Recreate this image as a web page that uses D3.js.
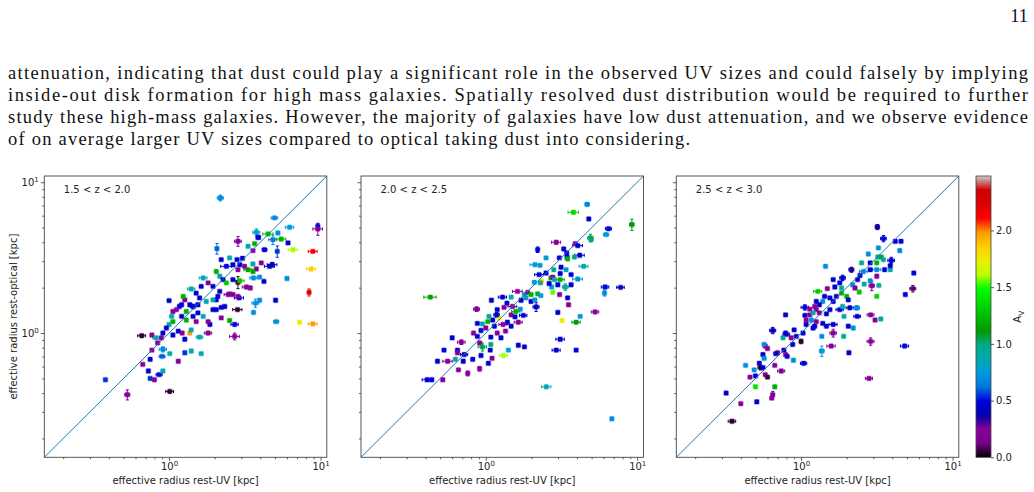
<!DOCTYPE html>
<html><head><meta charset="utf-8">
<script src="https://cdn.jsdelivr.net/npm/d3@7"></script>
<style>html,body{margin:0;padding:0;background:#fff;}svg{display:block;}</style>
</head><body>
<script>
// ---------- data ----------
const pageNumber = "11";
const paragraphLines = [
  "attenuation, indicating that dust could play a significant role in the observed UV sizes and could falsely by implying",
  "inside-out disk formation for high mass galaxies.  Spatially resolved dust distribution would be required to further",
  "study these high-mass galaxies. However, the majority of galaxies have low dust attenuation, and we observe evidence",
  "of on average larger UV sizes compared to optical taking dust into considering."
];
const panelLabels = ["1.5 < z < 2.0", "2.0 < z < 2.5", "2.5 < z < 3.0"];
const xTitle = "effective radius rest-UV [kpc]";
const yTitle = "effective radius rest-optical [kpc]";
const cbarTicks = [0.0, 0.5, 1.0, 1.5, 2.0];
const axisDomain = [0.15, 11];
const avDomain = [0, 2.48];

// each point: [r_UV, r_opt, A_V, err_UV, err_opt]
const panel1 = [
[2.18,7.87,0.7,0.1,0.35],[4.97,5.8,0.7,0.25,0],[6.25,5.03,0.75,0.4,0],[9.6,5.1,0.5,0,0.2],[9.6,4.9,0.25,0.7,0.45],
[3.77,4.66,0.8,0.2,0.25],[4.5,4.54,1.25,0.35,0],[3.86,4.31,0.45,0,0],[5.23,4.61,0.7,0,0],[4.85,4.16,0.65,0.3,0.3],
[5.5,4.2,1.2,0.4,0],[6.1,3.96,0.45,0,0],[5.18,3.48,0.55,0,0.3],[6.57,3.57,1.6,0.45,0],[8.9,3.48,2.15,0.6,0],
[8.68,2.66,1.85,0.6,0],[8.4,1.86,2.2,0,0.1],[7.27,1.18,1.72,0,0],[8.9,1.15,1.97,0.6,0],[6.0,2.3,0.7,0,0],
[5.05,1.65,0.45,0,0],[5.1,1.19,0.72,0.2,0],[4.8,2.84,0.45,0.35,0.1],[4.23,2.2,0.45,0,0],[3.96,2.35,0.7,0,0],
[3.61,2.32,0.7,0.2,0],[3.72,1.58,0.72,0.2,0.1],[3.61,1.37,0.7,0,0],[3.96,1.65,0.7,0,0],[2.85,4.06,0.25,0.15,0.3],
[2.07,3.63,0.6,0,0.3],[3.32,3.76,0.85,0,0],[3.67,3.92,1.2,0,0],[4.27,3.57,0.45,0.15,0],[3.9,4.31,0.45,0,0],
[3.58,3.52,0.25,0,0],[3.05,3.13,0.45,0,0],[2.81,3.07,0.5,0,0],[2.21,3.07,0.45,0,0],[2.51,3.15,0.85,0,0],
[2.39,2.77,0.5,0.2,0],[2.64,2.84,0.45,0,0],[4.61,2.77,0.4,0.35,0],[4.06,2.92,0.25,0,0],[3.77,2.66,0.25,0,0],
[3.58,2.87,0.85,0,0],[3.32,2.63,1.15,0.2,0],[3.15,2.77,0.25,0,0],[3.58,2.56,1.15,0,0],[2.93,2.84,0.45,0,0],
[2.85,2.63,0.25,0,0],[2.64,2.26,0.45,0,0],[2.85,2.17,0.05,0,0.2],[2.93,2.22,1.3,0.2,0],[3.24,2.02,0.25,0.2,0],
[3.44,1.99,0.25,0,0],[2.9,1.71,0.5,0.2,0],[2.83,1.43,0.05,0.2,0],[2.64,1.8,0.25,0,0],[2.46,1.8,0.25,0.15,0],
[2.16,1.89,0.45,0,0],[2.05,1.66,0.45,0,0],[2.21,1.48,0.45,0,0],[1.95,1.43,0.45,0,0],[2.21,1.26,0.25,0,0],
[2.51,1.21,1.2,0,0],[2.71,1.14,0.5,0.15,0],[2.71,0.95,0.25,0.2,0.05],[1.86,1.14,0.45,0,0],[1.81,1.0,0.25,0.1,0],
[1.59,0.94,0.85,0.08,0],[1.4,0.76,0.85,0,0],[1.27,0.74,0.55,0,0],[1.63,0.73,0.85,0,0],[1.27,0.91,0.5,0,0],
[1.37,1.0,1.97,0,0],[1.4,1.05,0.85,0,0],[1.15,0.65,0.25,0,0],[1.01,0.73,0.85,0,0],[0.91,0.78,0.7,0.05,0.03],
[1.01,0.41,0.05,0.06,0],[0.66,0.96,0.05,0.04,0],[0.77,0.97,0.25,0,0],[0.77,0.77,0.25,0,0],[0.67,0.62,0.25,0,0],
[0.75,0.67,0.45,0,0],[0.73,0.56,0.5,0,0],[0.75,0.50,0.55,0,0],[0.8,0.49,0.25,0,0],[0.86,0.53,0.5,0.04,0],
[0.91,0.56,0.85,0,0],[0.53,0.39,0.25,0.02,0.03],[0.38,0.49,0.55,0,0],[0.9,0.70,0.6,0.04,0],[0.84,0.86,0.25,0,0],
[0.89,0.93,0.25,0,0],[0.91,1.0,0.45,0,0],[1.0,1.14,0.85,0,0],[1.06,1.19,1.2,0,0],[1.04,1.29,0.85,0,0],
[0.96,1.08,0.45,0,0],[1.06,0.97,0.45,0,0],[1.15,1.03,0.45,0,0],[1.22,1.0,0.25,0,0],[0.82,0.93,0.85,0.04,0],
[1.06,1.39,0.25,0,0],[1.0,1.64,0.45,0,0],[1.17,1.5,0.45,0,0],[1.12,1.43,0.25,0,0],[1.21,1.54,0.5,0,0],
[1.27,1.66,0.25,0,0],[1.3,1.39,1.2,0,0],[1.37,1.54,0.45,0,0],[1.44,1.5,0.5,0.06,0.05],[1.55,1.54,0.45,0,0],
[1.24,1.75,1.2,0,0],[1.4,1.96,0.85,0.08,0],[1.63,2.04,0.45,0,0],[1.68,2.32,0.85,0.1,0],[1.81,2.15,0.25,0,0],
[1.95,2.04,0.45,0,0],[2.16,2.38,0.85,0,0],[2.27,2.26,0.45,0,0],[2.39,2.15,1.3,0,0],[2.05,2.56,1.2,0,0],
[1.51,1.84,0.45,0,0],[1.59,1.71,0.45,0,0],[1.76,1.62,0.85,0,0],[1.68,1.29,0.85,0,0],[1.81,1.19,0.25,0,0],
[1.51,1.19,0.25,0,0],[1.44,1.29,0.45,0,0],[1.3,1.22,1.2,0,0],[2.05,1.43,0.45,0,0],[2.51,1.82,0.25,0,0],
[2.85,1.75,0.25,0,0],[1.95,1.66,0.85,0,0],[2.1,1.75,0.45,0,0],[2.33,1.5,0.45,0,0],[1.55,1.36,0.45,0,0],
[1.21,1.29,0.45,0,0]
];
const panel2 = [
[4.67,7.14,0.7,0.15,0.2],[3.79,6.32,1.35,0.3,0],[4.79,5.71,0.45,0,0],[9.22,5.24,1.1,0.3,0.45],[6.46,4.92,0.5,0.3,0],
[6.23,4.5,0.75,0.25,0],[4.91,4.27,1.05,0.2,0.25],[4.96,4.16,1.0,0,0],[2.92,4.0,0.25,0.2,0.1],[3.9,3.92,0.25,0,0],
[2.2,3.57,0.5,0,0.15],[3.27,3.61,0.45,0,0],[4.05,3.8,0.45,0.3,0],[3.42,3.4,0.45,0,0],[3.44,3.19,0.45,0,0],
[3.85,3.19,1.0,0,0],[4.17,3.28,0.45,0.3,0],[2.5,3.15,0.75,0,0],[3.06,3.15,0.5,0,0],[3.47,3.1,1.2,0,0],
[2.11,2.84,0.75,0.15,0],[2.28,2.81,0.75,0,0],[3.14,2.73,0.45,0,0],[4.43,2.77,0.85,0.3,0],[2.5,2.5,0.45,0,0],
[2.81,2.63,0.95,0,0],[3.1,2.48,0.45,0,0],[3.39,2.63,0.75,0,0],[3.66,2.44,0.45,0,0],[4.05,2.28,0.7,0.3,0],
[2.25,2.44,0.45,0.15,0],[2.09,2.17,0.75,0,0],[2.34,2.2,1.85,0,0],[2.69,2.32,1.2,0,0],[2.77,2.35,0.25,0,0],
[2.84,2.26,0.85,0,0],[3.1,2.26,1.2,0.2,0],[2.99,2.09,0.45,0,0],[3.35,2.02,0.95,0.15,0.1],[2.72,2.02,0.75,0,0],
[2.77,1.86,1.55,0,0],[3.07,1.8,0.25,0,0],[3.47,1.71,0.45,0,0],[3.52,1.54,0.25,0,0],[2.99,1.37,0.45,0,0],
[3.19,1.21,1.72,0,0],[3.95,1.18,1.1,0.25,0],[4.2,1.29,0.75,0,0],[5.27,1.38,0.25,0.3,0],[6.14,2.02,0.5,0.35,0],
[7.76,2.01,0.45,0.45,0],[6.08,1.84,0.7,0,0.08],[3.1,0.91,0.45,0.2,0],[2.92,0.77,0.45,0.18,0],[3.95,0.77,0.5,0,0],
[2.51,0.44,0.85,0.18,0],[6.8,0.27,0.7,0,0],[0.43,1.73,1.15,0.04,0],[2.15,1.49,0.45,0.1,0.1],[1.99,1.62,0.45,0,0],
[2.11,1.66,0.75,0,0],[1.84,1.71,0.75,0,0],[1.8,1.8,0.9,0,0],[1.62,1.89,0.25,0.12,0],[1.89,1.86,0.25,0,0],
[1.99,1.8,1.2,0,0],[2.2,1.82,1.2,0,0],[2.31,1.77,0.75,0,0],[1.71,1.65,0.45,0,0],[1.29,1.73,0.45,0.08,0],
[1.47,1.73,0.85,0,0],[1.38,1.58,0.45,0,0],[1.09,1.65,0.45,0,0],[1.32,1.48,0.25,0,0],[1.5,1.5,0.25,0.1,0],
[1.69,1.44,0.75,0,0],[1.58,1.39,1.2,0.1,0],[1.77,1.31,0.45,0.1,0],[1.47,1.32,0.25,0,0],[1.56,1.28,0.45,0,0],
[1.64,1.18,0.25,0.1,0],[1.39,1.18,0.45,0,0],[1.3,1.14,0.25,0.08,0],[1.22,1.26,1.75,0,0],[1.18,1.32,0.45,0.05,0.05],
[1.11,1.22,0.45,0,0],[1.05,1.29,0.95,0,0],[1.14,1.11,0.45,0,0],[1.19,1.0,0.25,0,0],[1.08,0.94,0.45,0,0],
[1.26,0.93,0.45,0,0],[1.35,1.03,0.25,0,0],[0.95,1.15,0.85,0,0],[1.0,1.08,0.25,0,0],[0.93,1.04,0.45,0,0],
[0.87,1.44,0.25,0.04,0.05],[0.83,1.0,0.25,0,0],[0.88,0.95,0.45,0,0],[0.91,0.86,0.25,0,0],[0.95,0.81,1.05,0.06,0.05],
[1.08,0.84,1.0,0,0],[1.07,0.77,0.45,0,0],[0.93,0.71,0.45,0,0],[1.04,0.63,0.45,0,0],[1.1,0.68,0.25,0,0],
[1.31,0.71,1.6,0.08,0],[1.41,0.77,0.75,0,0],[1.64,0.83,0.45,0,0],[1.8,0.81,0.45,0,0],[0.69,0.87,0.25,0.04,0.03],
[0.65,0.77,0.45,0,0],[0.65,0.74,0.25,0,0],[0.6,0.93,0.45,0,0],[0.53,0.77,0.5,0,0],[0.56,0.65,0.25,0.04,0],
[0.63,0.67,0.85,0,0],[0.71,0.65,0.45,0,0],[0.72,0.72,0.45,0.04,0],[0.82,0.67,0.45,0,0],[0.91,0.58,0.25,0,0.02],
[0.76,0.54,0.25,0,0.02],[0.66,0.57,0.25,0,0],[0.48,0.65,0.45,0,0],[0.41,0.49,0.45,0.03,0],[0.44,0.49,0.5,0,0],
[0.52,0.49,0.25,0,0],[0.88,1.16,0.45,0,0],[1.03,1.19,1.2,0,0],[1.47,1.11,0.45,0,0],[1.19,1.43,0.45,0,0],
[2.29,2.15,0.95,0,0],[2.62,2.13,0.45,0,0],[3.66,2.09,0.45,0,0]
];
const panel3 = [
[3.19,5.05,0.35,0.1,0.2],[3.5,4.23,0.5,0.15,0.2],[4.19,4.06,0.45,0,0],[4.57,4.06,0.5,0,0],[4.48,3.52,0.7,0,0.1],
[3.94,3.03,0.45,0.2,0.15],[3.24,3.67,0.7,0,0],[2.78,3.34,0.7,0,0],[3.21,3.19,0.95,0,0],[3.38,3.19,1.05,0,0],
[3.16,2.92,1.2,0,0],[3.88,2.63,0.85,0,0],[3.56,2.63,0.5,0,0],[3.16,2.63,0.7,0.2,0],[2.86,2.63,0.45,0,0],
[2.58,2.56,0.7,0.15,0],[2.15,2.63,0.35,0.08,0.1],[2.45,2.41,0.5,0,0],[3.16,2.38,0.25,0,0],[2.86,2.22,0.7,0,0],
[2.93,2.06,0.25,0.12,0.15],[3.26,2.07,0.9,0,0],[2.36,2.26,0.45,0,0],[1.88,2.32,0.45,0.08,0.1],[2.19,2.09,0.7,0,0],
[2.27,1.99,0.25,0,0],[2.42,1.87,1.3,0,0],[3.16,1.75,1.35,0,0],[1.45,2.77,0.7,0,0],[5.55,2.5,0.5,0,0],
[5.47,1.97,0.1,0.25,0.1],[4.88,1.8,0.5,0,0],[4.83,0.82,0.5,0.3,0],[2.81,0.50,0.25,0.15,0],[2.88,0.88,0.25,0.15,0.05],
[2.07,0.74,0.45,0,0],[2.21,1.08,0.7,0,0],[2.35,1.29,0.45,0.12,0],[2.88,1.32,0.25,0.15,0],[3.36,1.24,0.9,0,0],
[3.08,1.22,0.25,0,0],[1.92,1.29,0.85,0,0],[1.91,0.95,0.95,0,0],[1.63,1.0,0.25,0.08,0.06],[1.58,0.82,0.25,0.1,0],
[1.37,0.76,0.75,0.05,0.06],[1.37,0.95,0.7,0,0],[1.63,1.14,0.45,0.1,0],[1.47,1.11,0.45,0,0],[1.8,1.43,0.45,0.1,0],
[2.1,1.47,0.45,0.12,0],[2.33,1.47,0.7,0.1,0.05],[1.88,1.5,0.85,0,0],[1.63,1.62,0.45,0,0],[1.71,1.75,0.45,0,0],
[1.55,1.71,0.5,0,0],[1.39,1.62,0.7,0,0],[1.43,1.75,0.45,0,0],[1.29,1.89,1.3,0.08,0],[1.49,1.97,0.25,0,0],
[1.67,2.02,0.45,0,0],[1.85,1.99,0.9,0,0],[1.85,1.84,1.2,0,0],[2.0,1.75,1.2,0,0],[2.05,1.66,0.45,0,0],
[1.32,1.54,0.45,0,0],[1.26,1.43,0.25,0,0],[1.32,1.36,0.25,0,0],[1.47,1.34,0.45,0,0],[1.55,1.43,0.45,0,0],
[1.06,1.48,0.45,0.06,0.06],[1.14,1.32,0.25,0,0],[1.2,1.36,0.9,0,0],[1.17,1.22,0.7,0,0],[1.26,1.19,0.25,0,0],
[1.39,1.16,0.45,0,0],[1.23,1.11,0.45,0,0],[1.08,1.14,0.45,0,0],[1.03,1.0,0.45,0,0],[1.0,0.88,0.05,0,0.03],
[0.93,0.95,0.45,0,0],[0.88,0.84,0.45,0,0],[0.8,0.98,0.45,0.04,0],[0.9,1.05,0.45,0,0],[0.86,0.93,0.25,0,0],
[0.76,0.93,0.95,0,0],[0.79,1.0,0.45,0,0],[0.65,1.04,0.4,0.03,0.05],[0.79,1.32,0.45,0,0],[1.06,1.31,0.45,0,0],
[1.14,1.44,0.25,0,0],[1.08,1.22,0.25,0,0],[0.77,0.77,0.45,0,0],[0.7,0.74,0.25,0,0],[0.68,0.73,0.45,0,0],
[0.79,0.72,0.25,0,0],[0.81,0.70,0.45,0,0],[0.89,0.66,0.7,0,0],[1.04,0.63,0.45,0.05,0],[0.74,0.56,0.25,0.04,0],
[0.67,0.61,0.25,0,0],[0.58,0.82,0.25,0,0],[0.57,0.84,0.7,0,0],[0.6,0.79,0.25,0,0],[0.56,0.72,0.45,0,0],
[0.57,0.68,0.7,0,0],[0.53,0.63,0.45,0,0],[0.54,0.59,0.05,0.02,0.02],[0.56,0.59,0.45,0,0],[0.5,0.52,0.45,0,0],
[0.49,0.57,0.7,0,0],[0.43,0.61,0.7,0,0],[0.46,0.51,0.25,0,0],[0.58,0.53,0.25,0,0],[0.6,0.51,0.05,0,0],
[0.5,0.44,1.4,0,0],[0.67,0.44,1.2,0,0],[0.65,0.39,0.25,0,0.02],[0.64,0.37,0.25,0,0],[0.51,0.35,0.45,0,0],
[0.4,0.34,0.25,0,0],[0.32,0.40,0.45,0,0],[0.35,0.26,0.05,0.02,0],[1.23,1.5,0.25,0,0],[1.26,1.62,0.45,0,0],
[1.63,2.26,0.45,0,0],[1.8,2.15,0.45,0,0],[2.51,2.92,0.95,0,0],[2.86,2.92,0.45,0,0],[3.5,3.07,0.95,0,0],
[3.88,2.8,0.45,0,0],[1.2,1.08,0.45,0,0],[2.61,2.11,0.9,0,0],[2.05,1.11,0.45,0,0]
];
const panels = [panel1, panel2, panel3];

// nipy_spectral colormap stops
const nsR = [0,.4667,.5333,0,0,0,0,0,0,0,0,0,0,.7333,.9333,1,1,1,.8667,.8,.8];
const nsG = [0,0,0,0,0,.4667,.6,.6667,.6667,.6,.7333,.8667,1,1,.9333,.8,.6,0,0,0,.8];
const nsB = [0,.5333,.6,.6667,.8667,.8667,.8667,.6667,.5333,0,0,0,0,0,0,0,0,0,0,0,.8];

// ---------- drawing ----------
const W = 1034, H = 492;
const svg = d3.select("body").append("svg").attr("width", W).attr("height", H);
const FONT = "DejaVu Sans, sans-serif";
const SERIF = "Liberation Serif, Times New Roman, serif";

const stopColors = nsR.map((r,i) => d3.rgb(r*255, nsG[i]*255, nsB[i]*255));
const cmap = d3.scaleLinear().domain(stopColors.map((_,i)=>i/20)).range(stopColors).interpolate(d3.interpolateRgb).clamp(true);
const avNorm = d3.scaleLinear().domain(avDomain).range([0,1]).clamp(true);
const colorOf = a => cmap(avNorm(a));

// page text
svg.append("text").attr("x", 1028).attr("y", 22).attr("text-anchor","end")
  .attr("font-family",SERIF).attr("font-size",18.5).attr("fill","#111").text(pageNumber);
const lineEnds = [1028, 1028, 1028, 690];
paragraphLines.forEach((t,i) => {
  svg.append("text").attr("x", 8).attr("y", 78.5 + i*22.2)
    .attr("font-family",SERIF).attr("font-size",18.5)
    .attr("textLength", lineEnds[i]-8).attr("lengthAdjust","spacing")
    .attr("fill","#111").text(t);
});

const yTop = 176, yBot = 457.3, pw = 282.5;
const lefts = [44.3, 361, 676.3];
const majors = [1, 10];
const minors = [0.2,0.3,0.4,0.5,0.6,0.7,0.8,0.9,2,3,4,5,6,7,8,9];

function supLabel(sel, d) {
  sel.text(null);
  sel.append("tspan").text("10");
  sel.append("tspan").attr("dy",-4).attr("font-size",7).text(Math.round(Math.log10(d)));
}

panels.forEach((data, pi) => {
  const left = lefts[pi];
  const x = d3.scaleLog().domain(axisDomain).range([left, left+pw]);
  const y = d3.scaleLog().domain(axisDomain).range([yBot, yTop]);
  const g = svg.append("g");

  const cid = "clip"+pi;
  svg.append("clipPath").attr("id",cid).append("rect")
    .attr("x",left).attr("y",yTop).attr("width",pw).attr("height",yBot-yTop);
  const plot = g.append("g").attr("clip-path",`url(#${cid})`);

  // error bars
  const eb = plot.append("g").attr("stroke-width",1);
  data.forEach(d => {
    const c = colorOf(d[2]);
    const px = x(d[0]), py = y(d[1]);
    if (d[3] > 0) {
      const x1 = x(d[0]-d[3]), x2 = x(d[0]+d[3]);
      eb.append("line").attr("x1",x1).attr("x2",x2).attr("y1",py).attr("y2",py).attr("stroke",c);
      [x1,x2].forEach(xx => eb.append("line").attr("x1",xx).attr("x2",xx).attr("y1",py-1.6).attr("y2",py+1.6).attr("stroke",c));
    }
    if (d[4] > 0) {
      const y1 = y(d[1]-d[4]), y2 = y(d[1]+d[4]);
      eb.append("line").attr("x1",px).attr("x2",px).attr("y1",y1).attr("y2",y2).attr("stroke",c);
      [y1,y2].forEach(yy => eb.append("line").attr("x1",px-1.6).attr("x2",px+1.6).attr("y1",yy).attr("y2",yy).attr("stroke",c));
    }
  });
  // markers
  plot.append("g").selectAll("rect").data(data).join("rect")
    .attr("x", d => x(d[0]) - 2.2).attr("y", d => y(d[1]) - 2.2)
    .attr("width", 4.4).attr("height", 4.4).attr("rx", 0.8)
    .attr("fill", d => colorOf(d[2]))
    .attr("stroke", d => colorOf(d[2])).attr("stroke-opacity", 0.35).attr("stroke-width", 1.4);

  // one-to-one line
  plot.append("line").attr("x1", x(axisDomain[0])).attr("y1", y(axisDomain[0]))
    .attr("x2", x(axisDomain[1])).attr("y2", y(axisDomain[1]))
    .attr("stroke","#1f77b4").attr("stroke-width",1);

  // axes
  const xMaj = d3.axisBottom(x).tickValues(majors).tickSize(3.5).tickPadding(2);
  const xMin = d3.axisBottom(x).tickValues(minors).tickSize(2).tickFormat("");
  const yMaj = d3.axisLeft(y).tickValues(majors).tickSize(3.5).tickPadding(2);
  const yMin = d3.axisLeft(y).tickValues(minors).tickSize(2).tickFormat("");

  const gx = g.append("g").attr("transform",`translate(0,${yBot})`).call(xMaj);
  g.append("g").attr("transform",`translate(0,${yBot})`).call(xMin);
  const gy = g.append("g").attr("transform",`translate(${left},0)`).call(yMaj);
  g.append("g").attr("transform",`translate(${left},0)`).call(yMin);
  g.selectAll(".domain").remove();
  g.selectAll(".tick line").attr("stroke","#333").attr("stroke-width",0.8);
  gx.selectAll(".tick text").attr("font-family",FONT).attr("font-size",10).attr("fill","#222")
    .each(function(d){ supLabel(d3.select(this), d); });
  if (pi === 0) {
    gy.selectAll(".tick text").attr("font-family",FONT).attr("font-size",10).attr("fill","#222")
      .each(function(d){ supLabel(d3.select(this), d); });
  } else {
    gy.selectAll(".tick text").remove();
  }

  // frame
  g.append("rect").attr("x",left).attr("y",yTop).attr("width",pw).attr("height",yBot-yTop)
    .attr("fill","none").attr("stroke","#444").attr("stroke-width",0.9);

  // labels
  g.append("text").attr("x", left + 19.5).attr("y", 193).attr("font-family",FONT)
    .attr("font-size",10).attr("fill","#222").text(panelLabels[pi]);
  g.append("text").attr("x", left + pw/2).attr("y", 484).attr("text-anchor","middle")
    .attr("font-family",FONT).attr("font-size",10).attr("fill","#222").text(xTitle);
  if (pi === 0) {
    g.append("text").attr("transform",`translate(17,${(yTop+yBot)/2}) rotate(-90)`)
      .attr("text-anchor","middle").attr("font-family",FONT).attr("font-size",10).attr("fill","#222").text(yTitle);
  }
});

// colorbar
const cbX = 976, cbW = 15;
const defs = svg.append("defs");
const grad = defs.append("linearGradient").attr("id","cbgrad").attr("x1",0).attr("y1",1).attr("x2",0).attr("y2",0);
d3.range(0, 1.0001, 0.01).forEach(t => grad.append("stop").attr("offset", t).attr("stop-color", cmap(t)));
svg.append("rect").attr("x",cbX).attr("y",yTop).attr("width",cbW).attr("height",yBot-yTop).attr("fill","url(#cbgrad)");
svg.append("rect").attr("x",cbX).attr("y",yTop).attr("width",cbW).attr("height",yBot-yTop)
  .attr("fill","none").attr("stroke","#444").attr("stroke-width",0.8);
const cbScale = d3.scaleLinear().domain(avDomain).range([yBot, yTop]);
const gcb = svg.append("g").attr("transform",`translate(${cbX+cbW},0)`)
  .call(d3.axisRight(cbScale).tickValues(cbarTicks).tickSize(3).tickPadding(2).tickFormat(d3.format(".1f")));
gcb.select(".domain").remove();
gcb.selectAll(".tick line").attr("stroke","#333").attr("stroke-width",0.8);
gcb.selectAll(".tick text").attr("font-family",FONT).attr("font-size",10).attr("fill","#222");
const avLab = svg.append("text").attr("transform",`translate(1021,${(yTop+yBot)/2}) rotate(-90)`)
  .attr("text-anchor","middle").attr("font-family",FONT).attr("font-size",10).attr("fill","#222");
avLab.append("tspan").text("A");
avLab.append("tspan").attr("dy",2.5).attr("font-size",7.5).text("V");
</script>
</body></html>
